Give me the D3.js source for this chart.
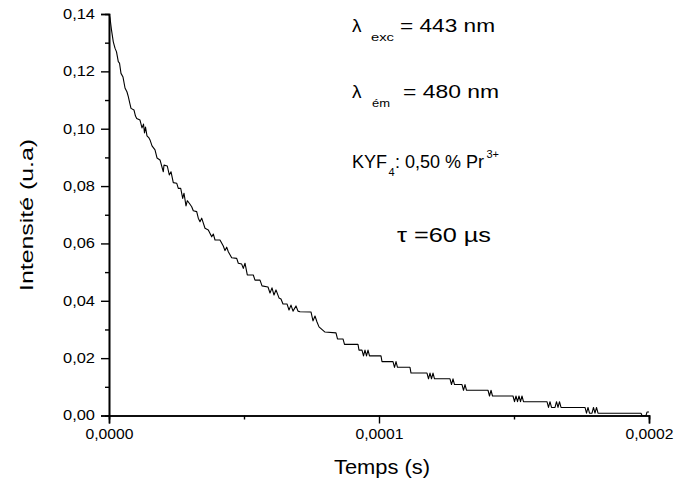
<!DOCTYPE html>
<html>
<head>
<meta charset="utf-8">
<script src="https://cdn.jsdelivr.net/npm/d3@7/dist/d3.min.js"></script>
<style>
  html, body { margin: 0; padding: 0; background: #fff; }
  svg { display: block; }
  text { font-family: "Liberation Sans", Arial, sans-serif; fill: #000; }
</style>
</head>
<body>
<svg id="chart" width="691" height="487"></svg>
<script>
// Fluorescence decay of KYF4:Pr3+ — time in microseconds, intensity in arbitrary units
const tempsUs = [
  0, 0.37, 0.93, 1.59, 2.22, 2.78, 3.44, 3.89, 4.44, 5.19, 5.93, 6.67, 7.15, 7.78, 8.15,
  9.26, 9.81, 10.26, 11.48, 12.22, 12.78, 13.15, 13.52, 14.07, 14.81, 15.19, 15.93, 17.04,
  17.78, 18.89, 20.11, 20.37, 21.59, 22.33, 22.96, 23.81, 25.07, 25.67, 26.56, 27.30, 27.78,
  28.52, 29.00, 29.74, 30.63, 31.22, 32.48, 33.07, 33.70, 34.33, 35.56, 36.78, 38.04, 38.63,
  39.26, 41.11, 42.33, 42.96, 43.59, 44.19, 45.44, 47.30, 47.89, 49.15, 49.74, 50.37, 51.22,
  53.44, 54.07, 55.93, 56.67, 58.89, 59.63, 60.37, 61.11, 61.85, 62.96, 63.70, 64.44, 65.93,
  66.67, 67.41, 68.15, 69.26, 70.00, 70.74, 74.81, 75.56, 76.30, 77.04, 77.78, 80.00, 84.07,
  84.63, 86.67, 87.22, 92.22, 92.59, 93.70, 94.26, 94.81, 95.37, 95.93, 96.48, 100.74, 101.11,
  105.19, 105.74, 106.30, 106.85, 111.48, 111.85, 117.78, 118.33, 118.89, 119.44, 120.00,
  120.56, 126.30, 126.85, 127.41, 127.96, 130.74, 131.30, 131.85, 132.41, 140.37, 140.93,
  141.48, 142.04, 149.63, 150.19, 150.74, 151.30, 151.85, 152.41, 152.96, 153.52, 162.22,
  162.78, 163.33, 163.89, 165.19, 165.74, 166.30, 166.85, 167.41, 176.30, 176.85, 177.41,
  177.96, 178.89, 179.44, 180.00, 180.56, 181.11, 197.04, 197.41, 198.89, 199.26, 200.00
];
const intensite = [
  0.1400, 0.1386, 0.1344, 0.1303, 0.1281, 0.1268, 0.1234, 0.1229, 0.1193, 0.1180, 0.1142,
  0.1128, 0.1112, 0.1086, 0.1071, 0.1065, 0.1044, 0.1036, 0.1030, 0.1003, 0.1016, 0.0985,
  0.1006, 0.0975, 0.0968, 0.0961, 0.0940, 0.0926, 0.0898, 0.0891, 0.0850, 0.0873, 0.0870,
  0.0839, 0.0850, 0.0812, 0.0810, 0.0792, 0.0792, 0.0757, 0.0775, 0.0731, 0.0749, 0.0740,
  0.0728, 0.0714, 0.0711, 0.0688, 0.0676, 0.0688, 0.0653, 0.0647, 0.0623, 0.0633, 0.0612,
  0.0612, 0.0591, 0.0575, 0.0587, 0.0571, 0.0550, 0.0548, 0.0531, 0.0528, 0.0513, 0.0531,
  0.0490, 0.0490, 0.0472, 0.0472, 0.0452, 0.0448, 0.0427, 0.0445, 0.0420, 0.0438, 0.0410,
  0.0406, 0.0389, 0.0389, 0.0368, 0.0385, 0.0364, 0.0382, 0.0364, 0.0362, 0.0361, 0.0330,
  0.0347, 0.0326, 0.0309, 0.0291, 0.0288, 0.0267, 0.0267, 0.0248, 0.0248, 0.0228, 0.0228,
  0.0208, 0.0228, 0.0208, 0.0228, 0.0208, 0.0208, 0.0188, 0.0188, 0.0168, 0.0188, 0.0168,
  0.0168, 0.0148, 0.0148, 0.0128, 0.0148, 0.0128, 0.0148, 0.0128, 0.0128, 0.0108, 0.0128,
  0.0108, 0.0108, 0.0088, 0.0108, 0.0088, 0.0088, 0.0068, 0.0088, 0.0068, 0.0068, 0.0048,
  0.0068, 0.0048, 0.0068, 0.0048, 0.0068, 0.0048, 0.0048, 0.0028, 0.0048, 0.0028, 0.0028,
  0.0048, 0.0028, 0.0048, 0.0028, 0.0028, 0.0008, 0.0028, 0.0008, 0.0008, 0.0028, 0.0008,
  0.0028, 0.0008, 0.0008, 0.0000, 0.0000, 0.0012, 0.0012
];

// Axis ticks (seconds and u.a)
const xMajorTicks = [0, 0.0001, 0.0002];
const xMinorTicks = [0.00005, 0.00015];
const yMajorTicks = [0, 0.02, 0.04, 0.06, 0.08, 0.10, 0.12, 0.14];
const yMinorTicks = [0.01, 0.03, 0.05, 0.07, 0.09, 0.11, 0.13];

const frLocale = d3.formatLocale({ decimal: ",", thousands: ".", grouping: [3], currency: ["", " €"] });
const fmtX = frLocale.format(".4f");
const fmtY = frLocale.format(".2f");

const svg = d3.select("#chart");
const plotLeft = 109, plotRight = 649, plotTop = 14, plotBottom = 415.5;

const x = d3.scaleLinear().domain([0, 0.0002]).range([plotLeft, plotRight]);
const y = d3.scaleLinear().domain([0, 0.14]).range([plotBottom, plotTop]);

// Y axis: minor ticks first, then labelled major ticks
const yMinor = svg.append("g").attr("transform", `translate(${plotLeft},0)`)
  .call(d3.axisLeft(y).tickValues(yMinorTicks).tickSize(4).tickFormat(""));
const yMajor = svg.append("g").attr("transform", `translate(${plotLeft},0)`)
  .call(d3.axisLeft(y).tickValues(yMajorTicks).tickSize(8).tickPadding(6).tickFormat(fmtY));

const xMinor = svg.append("g").attr("transform", `translate(0,${plotBottom})`)
  .call(d3.axisBottom(x).tickValues(xMinorTicks).tickSize(4).tickFormat(""));
const xMajor = svg.append("g").attr("transform", `translate(0,${plotBottom})`)
  .call(d3.axisBottom(x).tickValues(xMajorTicks).tickSize(8).tickPadding(6).tickFormat(fmtX));

[yMinor, yMajor, xMinor, xMajor].forEach(g => {
  g.selectAll(".domain").attr("stroke", "#000").attr("stroke-width", 1.6);
  g.selectAll(".tick line").attr("stroke", "#000").attr("stroke-width", 1.4);
  g.selectAll(".tick text").attr("font-size", 14).attr("fill", "#000")
    .attr("lengthAdjust", "spacingAndGlyphs")
    .style("font-family", "'Liberation Sans', Arial, sans-serif");
});
yMajor.selectAll(".tick text").attr("textLength", 32);
xMajor.selectAll(".tick text").attr("textLength", 48);

// Decay curve
const points = tempsUs.map((t, i) => [t * 1e-6, intensite[i]]);
svg.append("path")
  .datum(points)
  .attr("fill", "none")
  .attr("stroke", "#000")
  .attr("stroke-width", 1.1)
  .attr("stroke-linejoin", "round")
  .attr("d", d3.line().x(d => x(d[0])).y(d => y(d[1])));

// Helper for labels fitted to a given width
function label(parent, text, px, py, size, width, anchor) {
  const t = parent.append("text")
    .attr("x", px).attr("y", py)
    .attr("font-size", size)
    .attr("text-anchor", anchor || "start")
    .text(text);
  if (width) t.attr("textLength", width).attr("lengthAdjust", "spacingAndGlyphs");
  return t;
}

// Axis titles
label(svg, "Temps (s)", 382, 474, 20, 96, "middle");
label(svg.append("g").attr("transform", "translate(33,215) rotate(-90)"),
  "Intensité (u.a)", 0, 0, 19, 152, "middle");

// Annotations
const ann = svg.append("g");
label(ann, "λ", 352, 32, 19);
label(ann, "exc", 371, 41, 11, 23);
label(ann, "= 443 nm", 400, 32, 19, 95);

label(ann, "λ", 352, 98, 19);
label(ann, "ém", 372, 107, 11, 18);
label(ann, "= 480 nm", 403, 98, 19, 96);

// Composition line with subscript and superscript
label(ann, "KYF", 352, 168, 18);
label(ann, "4", 388.5, 176, 11);
label(ann, ": 0,50 % Pr", 395, 168, 18);
label(ann, "3+", 486.5, 158, 11);

label(ann, "τ =60 µs", 397, 242, 20, 94);
</script>
</body>
</html>
